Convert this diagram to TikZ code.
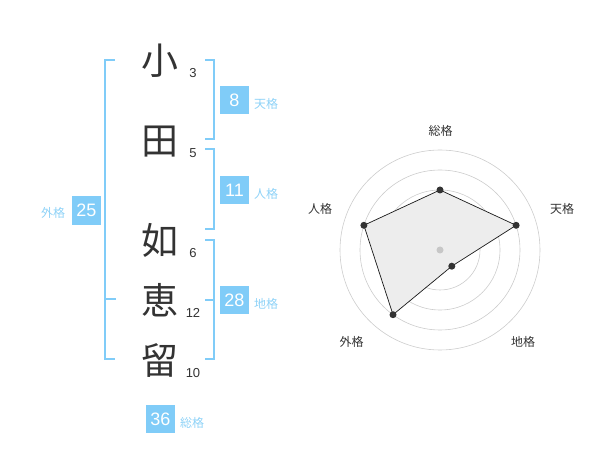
\documentclass[tikz,border=0pt]{standalone}
\usepackage{fontspec}
\setmainfont{Liberation Sans}
\newfontfamily\cjk{Noto Sans CJK JP}
\definecolor{kblue}{HTML}{80CCF8}
\definecolor{klabel}{HTML}{8ED2F7}
\definecolor{ink}{HTML}{333333}
\begin{document}
\begin{tikzpicture}[x=1pt,y=-1pt,
  kanji/.style={font=\cjk\fontsize{37}{37}\selectfont, text=ink, inner sep=0},
  strokes/.style={font=\fontsize{13}{13}\selectfont, text=ink, inner sep=0},
  score/.style={fill=kblue, text=white, minimum size=28.5pt, inner sep=0, font=\fontsize{18}{18}\selectfont},
  gelabel/.style={text=klabel, font=\cjk\fontsize{12}{12}\selectfont, inner sep=0},
  bracket/.style={draw=kblue, line width=2pt},
  ring/.style={draw=black!20, line width=0.6pt},
  dot/.style={circle, fill=ink, inner sep=0, minimum size=7pt},
  axislabel/.style={font=\cjk\fontsize{12}{12}\selectfont, text=ink, inner sep=0}]
\useasboundingbox (0,0) rectangle (600,470);

% name characters
\node[kanji] (k1) at (160,61) {小};
\node[kanji] (k2) at (160,142) {田};
\node[kanji] (k3) at (160,240) {如};
\node[kanji] (k4) at (160,300) {恵};
\node[kanji] (k5) at (160,360) {留};

\node[strokes] (s1) at (193,73) {3};
\node[strokes] (s2) at (193,153) {5};
\node[strokes] (s3) at (193,253) {6};
\node[strokes] (s4) at (193,313) {12};
\node[strokes] (s5) at (193,373) {10};

% brackets
\draw[bracket] (115,60) -- (105,60) -- (105,359) -- (115,359);
\draw[bracket] (105,299) -- (116,299);
\draw[bracket] (205,60) -- (214,60) -- (214,139) -- (205,139);
\draw[bracket] (205,149) -- (214,149) -- (214,229) -- (205,229);
\draw[bracket] (205,240) -- (214,240) -- (214,359) -- (205,359);
\draw[bracket] (214,300) -- (205,300);

% scores
\node[score] (ten) at (234.5,100) {8};
\node[gelabel] (tenl) at (266,104) {天格};
\node[score] (jin) at (234.5,190) {11};
\node[gelabel] (jinl) at (266,194) {人格};
\node[score] (chi) at (234.5,300) {28};
\node[gelabel] (chil) at (266,304) {地格};
\node[score] (gai) at (86.3,210.3) {25};
\node[gelabel] (gail) at (53,213) {外格};
\node[score] (sou) at (160.3,419) {36};
\node[gelabel] (soul) at (192,423) {総格};

% radar chart
\coordinate (c) at (440,250);
\foreach \r in {20,40,60,80,100} \draw[ring] (c) circle (\r);
\coordinate (pS) at (440,190);
\coordinate (pT) at (516.1,225.3);
\coordinate (pC) at (451.8,266.2);
\coordinate (pG) at (393,314.7);
\coordinate (pJ) at (363.9,225.3);
\fill[black!7] (pS) -- (pT) -- (pC) -- (pG) -- (pJ) -- cycle;
\node[circle, fill=black!22, inner sep=0, minimum size=7pt] (cd) at (c) {};
\draw[black!90, line width=0.7pt] (pS) -- (pT) -- (pC) -- (pG) -- (pJ) -- cycle;
\foreach \p in {pS,pT,pC,pG,pJ} \node[dot] at (\p) {};

\node[axislabel] (aS) at (440.7,131) {総格};
\node[axislabel] (aT) at (562,209) {天格};
\node[axislabel] (aC) at (523,342) {地格};
\node[axislabel] (aG) at (351.7,342) {外格};
\node[axislabel] (aJ) at (320,209) {人格};
\end{tikzpicture}
\end{document}
